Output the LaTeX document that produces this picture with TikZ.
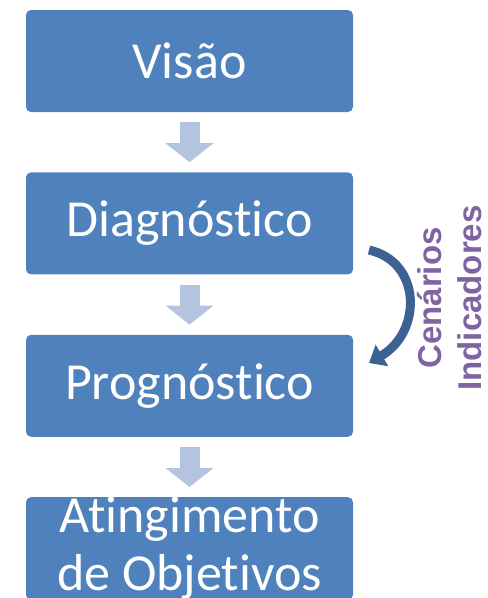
\documentclass[tikz,border=0pt]{standalone}
\usepackage{fontspec}
\setmainfont{Carlito}[Ligatures=NoCommon]
\newfontfamily\sidefont{Liberation Sans}
\usetikzlibrary{positioning,arrows.meta}
\definecolor{stageblue}{HTML}{4F81BD}
\definecolor{flowgray}{HTML}{B4C4DF}
\definecolor{loopblue}{HTML}{3B6293}
\definecolor{sidepurple}{HTML}{8064A2}

\begin{document}
\begin{tikzpicture}[x=1pt,y=1pt,
		stage/.style={fill=stageblue,rounded corners=5pt,minimum width=327pt,minimum height=102pt,inner sep=0pt,text=white,align=center,font=\fontsize{52}{58}\selectfont},
		flow/.style={draw=flowgray,line width=20pt,shorten >=10pt,shorten <=10pt,-{Triangle[width=47pt,length=19pt]}},
		node distance=60pt]
		\useasboundingbox (0,0) rectangle (488,-598);
		%%stages
		\node[stage] (visao) at (189.5,-61) {Visão};
		\node[stage,below=of visao] (diag) {Diagnóstico};
		\node[stage,below=of diag] (progn) {Prognóstico};
		\node[stage,below=of progn] (meta) {Atingimento\\de Objetivos};
		%%down arrows
		\draw[flow] (visao) -- (diag);
		\draw[flow] (diag) -- (progn);
		\draw[flow] (progn) -- (meta);
		%%loop back
		\coordinate (loopa) at (369,-250);
		\coordinate (loopb) at (369,-363);
		\draw[loopblue,line width=9pt,-{Triangle[width=24pt,length=15pt]}] (loopa) .. controls (422,-262) and (422,-332) .. (loopb);
		\node[rotate=90,align=center,text=sidepurple,font=\sidefont\bfseries\fontsize{33}{40}\selectfont] (side) at (450,-298) {Cenários\\Indicadores};
	\end{tikzpicture}
\end{document}
